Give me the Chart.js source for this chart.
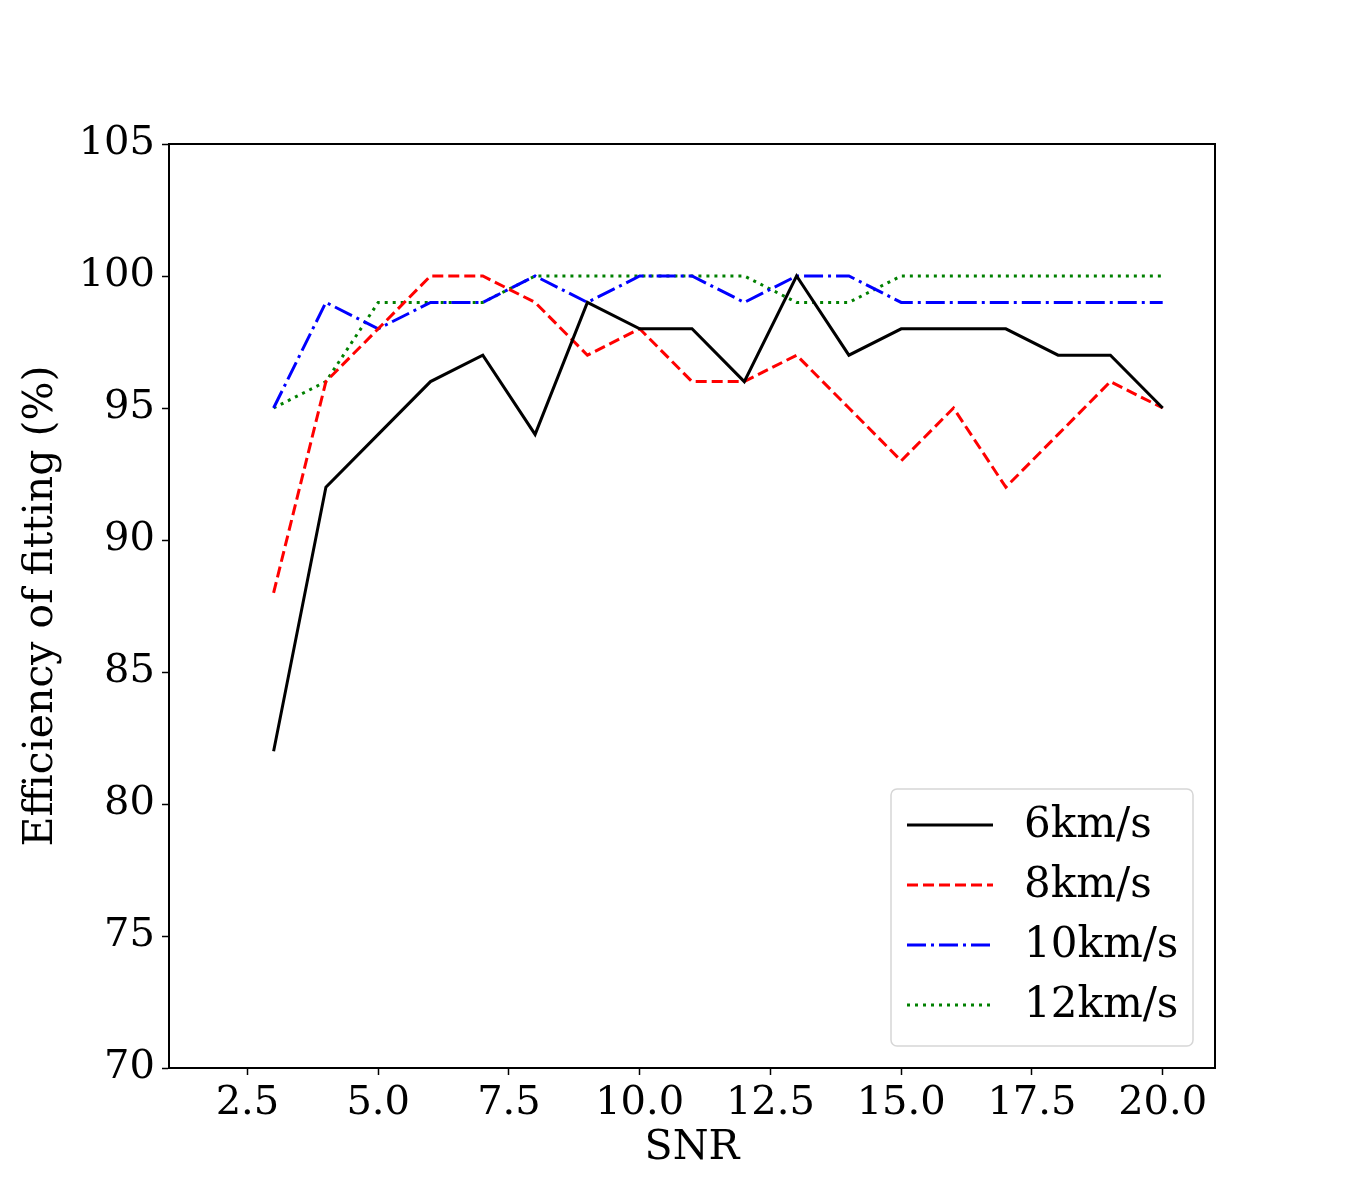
<!DOCTYPE html>
<html>
<head>
<meta charset="utf-8">
<script src="https://cdn.jsdelivr.net/npm/chart.js@4.4.1/dist/chart.umd.min.js"></script>
<style>
  body { margin: 0; background: #fff; }
</style>
</head>
<body>
<canvas id="chart" width="1350" height="1200"></canvas>
<script>
// SNR values on the x axis
var snr = [3, 4, 5, 6, 7, 8, 9, 10, 11, 12, 13, 14, 15, 16, 17, 18, 19, 20];

// efficiency of fitting (%) per speed
var eff6  = [82, 92, 94, 96, 97, 94, 99, 98, 98, 96, 100, 97, 98, 98, 98, 97, 97, 95];
var eff8  = [88, 96, 98, 100, 100, 99, 97, 98, 96, 96, 97, 95, 93, 95, 92, 94, 96, 95];
var eff10 = [95, 99, 98, 99, 99, 100, 99, 100, 100, 99, 100, 100, 99, 99, 99, 99, 99, 99];
var eff12 = [95, 96, 99, 99, 99, 100, 100, 100, 100, 100, 99, 99, 100, 100, 100, 100, 100, 100];

var seriesNames = ["6km/s", "8km/s", "10km/s", "12km/s"];

var xTicks = [2.5, 5.0, 7.5, 10.0, 12.5, 15.0, 17.5, 20.0];
var yTicks = [70, 75, 80, 85, 90, 95, 100, 105];

var FONT = "'DejaVu Serif', serif";

function pts(ys) {
  var out = [];
  for (var i = 0; i < snr.length; i++) out.push({x: snr[i], y: ys[i]});
  return out;
}

//Draws the full box around the plot and the matplotlib style legend
var framePlugin = {
  id: 'frame',
  afterDraw: function(chart) {
    var ctx = chart.ctx;
    var a = chart.chartArea;
    ctx.save();
    ctx.strokeStyle = '#000';
    ctx.lineWidth = 2;
    ctx.strokeRect(a.left, a.top, a.right - a.left, a.bottom - a.top);

    // legend box
    var bx = 891, by = 789, bw = 302, bh = 257, r = 6;
    ctx.beginPath();
    ctx.moveTo(bx + r, by);
    ctx.arcTo(bx + bw, by, bx + bw, by + bh, r);
    ctx.arcTo(bx + bw, by + bh, bx, by + bh, r);
    ctx.arcTo(bx, by + bh, bx, by, r);
    ctx.arcTo(bx, by, bx + bw, by, r);
    ctx.closePath();
    ctx.fillStyle = 'rgba(255,255,255,0.8)';
    ctx.fill();
    ctx.strokeStyle = '#d6d6d6';
    ctx.lineWidth = 1.5;
    ctx.stroke();

    chart.data.datasets.forEach(function(ds, i) {
      var y = 825 + i * 60;
      ctx.beginPath();
      ctx.setLineDash(ds.borderDash || []);
      ctx.strokeStyle = ds.borderColor;
      ctx.lineWidth = ds.borderWidth;
      ctx.lineCap = 'butt';
      ctx.moveTo(907, y);
      ctx.lineTo(993, y);
      ctx.stroke();
      ctx.setLineDash([]);
      ctx.fillStyle = '#000';
      ctx.font = '42px ' + FONT;
      ctx.textBaseline = 'middle';
      ctx.fillText(ds.label, 1024, y + 1);
    });
    ctx.restore();
  }
};

var lineStyle = {
  fill: false,
  pointRadius: 0,
  borderWidth: 3,
  tension: 0,
  borderCapStyle: 'butt'
};

new Chart(document.getElementById("chart"), {
  type: 'line',
  data: {
    datasets: [
      Object.assign({label: seriesNames[0], data: pts(eff6),  borderColor: '#000000'}, lineStyle),
      Object.assign({label: seriesNames[1], data: pts(eff8),  borderColor: '#ff0000', borderDash: [11, 5]}, lineStyle),
      Object.assign({label: seriesNames[2], data: pts(eff10), borderColor: '#0000ff', borderDash: [19, 5, 3, 5]}, lineStyle),
      Object.assign({label: seriesNames[3], data: pts(eff12), borderColor: '#008000', borderDash: [3, 5]}, lineStyle)
    ]
  },
  options: {
    responsive: false,
    animation: false,
    devicePixelRatio: 1,
    layout: { padding: { left: 0, top: 144, right: 135, bottom: 0 } },
    plugins: {
      legend: { display: false },
      tooltip: { enabled: false }
    },
    scales: {
      x: {
        type: 'linear',
        min: 1,
        max: 21,
        afterBuildTicks: function(axis) {
          axis.ticks = xTicks.map(function(v) { return {value: v}; });
        },
        afterFit: function(axis) { axis.height = 132; },
        grid: { drawOnChartArea: false, drawTicks: true, tickLength: 7, tickWidth: 1.5, tickColor: '#000' },
        border: { display: true, color: '#000', width: 2 },
        ticks: {
          color: '#000',
          padding: 5,
          maxRotation: 0,
          font: { family: FONT, size: 40 },
          callback: function(v) { return Number(v).toFixed(1); }
        },
        title: {
          display: true,
          text: 'SNR',
          color: '#000',
          font: { family: FONT, size: 41 },
          padding: { top: 0, bottom: 27 }
        }
      },
      y: {
        min: 70,
        max: 105,
        afterBuildTicks: function(axis) {
          axis.ticks = yTicks.map(function(v) { return {value: v}; });
        },
        afterFit: function(axis) { axis.width = 169; },
        grid: { drawOnChartArea: false, drawTicks: true, tickLength: 7, tickWidth: 1.5, tickColor: '#000' },
        border: { display: true, color: '#000', width: 2 },
        ticks: {
          color: '#000',
          padding: 7,
          font: { family: FONT, size: 40 }
        },
        title: {
          display: true,
          text: 'Efficiency of fitting (%)',
          color: '#000',
          font: { family: FONT, size: 41 },
          padding: { top: 17, bottom: 0 }
        }
      }
    }
  },
  plugins: [framePlugin]
});
</script>
</body>
</html>
